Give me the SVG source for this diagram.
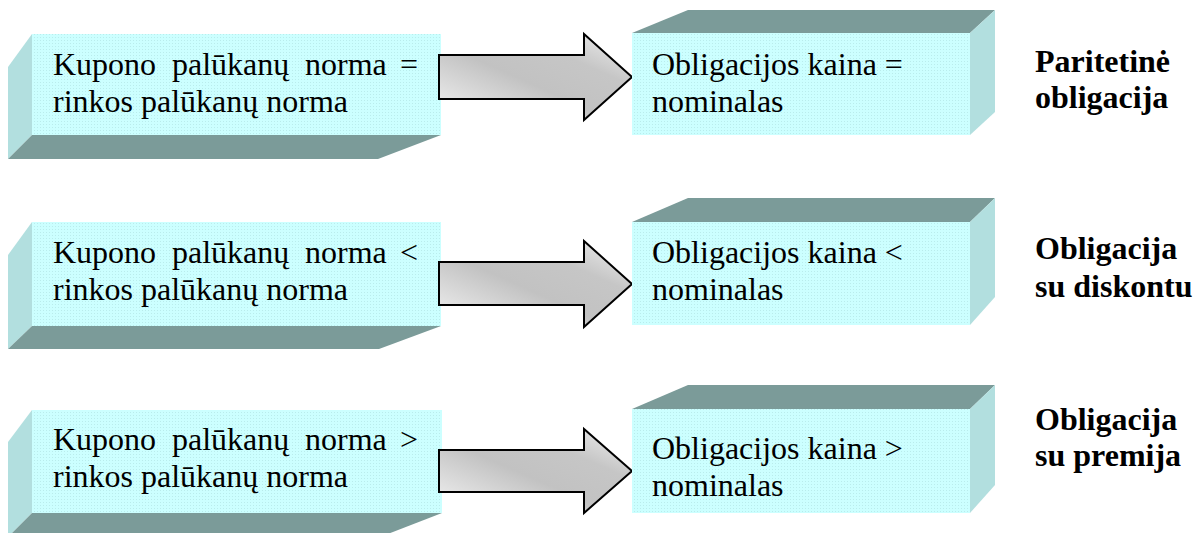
<svg xmlns="http://www.w3.org/2000/svg" width="1195" height="533" viewBox="0 0 1195 533">
  <defs>
    <!-- fine dotted texture on the front faces -->
    <pattern id="dots" width="3" height="3" patternUnits="userSpaceOnUse">
      <rect width="3" height="3" fill="#CCFFFF"/>
      <rect x="1" y="1" width="1" height="1" fill="#A9DCDC" opacity="0.55"/>
    </pattern>
    <!-- metallic fill for the block arrows -->
    <linearGradient id="steel" x1="0" y1="1" x2="1" y2="0">
      <stop offset="0" stop-color="#F4F4F4"/>
      <stop offset="0.45" stop-color="#C2C2C2"/>
      <stop offset="0.7" stop-color="#C6C6C6"/>
      <stop offset="1" stop-color="#F2F2F2"/>
    </linearGradient>
  </defs>
  <style>
    .front { fill: url(#dots); }
    .side { fill: #B2DFDF; }
    .shade { fill: #7B9B99; }
    .arrow { fill: url(#steel); stroke: #000; stroke-width: 2; stroke-linejoin: miter; }
    .txt { font-family: "Liberation Serif", "Times New Roman", serif; font-size: 32px; fill: #000; }
    .lbl { font-family: "Liberation Serif", "Times New Roman", serif; font-size: 32px; font-weight: bold; fill: #000; }
  </style>

  <rect width="1195" height="533" fill="#FFFFFF"/>

  <!-- condition blocks (extruded towards lower left) -->
  <g id="cond-1">
    <polygon class="side" points="8,67 32,34 32,135 8,159"/>
    <polygon class="shade" points="32,135 441,135 378,159 8,159"/>
    <rect class="front" x="32" y="34" width="409" height="101"/>
    <text class="txt" y="75"><tspan x="53">Kupono</tspan><tspan x="172">palūkanų</tspan><tspan x="305">norma</tspan><tspan x="400">=</tspan></text>
    <text class="txt" x="53" y="112">rinkos palūkanų norma</text>
  </g>
  <g id="cond-2">
    <polygon class="side" points="8,255 32,222 32,326 8,349"/>
    <polygon class="shade" points="32,326 441,326 379,349 8,349"/>
    <rect class="front" x="32" y="222" width="409" height="104"/>
    <text class="txt" y="263"><tspan x="53">Kupono</tspan><tspan x="172">palūkanų</tspan><tspan x="305">norma</tspan><tspan x="400">&lt;</tspan></text>
    <text class="txt" x="53" y="300">rinkos palūkanų norma</text>
  </g>
  <g id="cond-3">
    <polygon class="side" points="8,442 32,410 32,513 8,537"/>
    <polygon class="shade" points="32,513 442,513 380,537 8,537"/>
    <rect class="front" x="32" y="410" width="410" height="103"/>
    <text class="txt" y="450"><tspan x="53">Kupono</tspan><tspan x="172">palūkanų</tspan><tspan x="305">norma</tspan><tspan x="400">&gt;</tspan></text>
    <text class="txt" x="53" y="487">rinkos palūkanų norma</text>
  </g>

  <!-- connectors -->
  <g id="connectors">
    <polygon class="arrow" points="439,55 584,55 584,34 632,77 584,120 584,99 439,99"/>
    <polygon class="arrow" points="439,262 584,262 584,241 632,284 584,327 584,305 439,305"/>
    <polygon class="arrow" points="439,450 584,450 584,429 632,471 584,513 584,492 439,492"/>
  </g>

  <!-- price blocks (extruded towards upper right) -->
  <g id="price-1">
    <polygon class="shade" points="632,33 688,10 995,10 970,33"/>
    <polygon class="side" points="970,33 995,10 995,112 970,135"/>
    <rect class="front" x="632" y="33" width="338" height="102"/>
    <text class="txt" x="652" y="75">Obligacijos kaina =</text>
    <text class="txt" x="652" y="112">nominalas</text>
  </g>
  <g id="price-2">
    <polygon class="shade" points="632,222 688,198 995,198 970,222"/>
    <polygon class="side" points="970,222 995,198 995,297 970,325"/>
    <rect class="front" x="632" y="222" width="338" height="103"/>
    <text class="txt" x="652" y="263">Obligacijos kaina &lt;</text>
    <text class="txt" x="652" y="300">nominalas</text>
  </g>
  <g id="price-3">
    <polygon class="shade" points="632,409 688,385 995,385 970,409"/>
    <polygon class="side" points="970,409 995,385 995,485 970,513"/>
    <rect class="front" x="632" y="409" width="338" height="104"/>
    <text class="txt" x="652" y="459">Obligacijos kaina &gt;</text>
    <text class="txt" x="652" y="496">nominalas</text>
  </g>

  <!-- bond type labels -->
  <g id="type-1">
    <text class="lbl" x="1035" y="72">Paritetinė</text>
    <text class="lbl" x="1035" y="108">obligacija</text>
  </g>
  <g id="type-2">
    <text class="lbl" x="1035" y="259">Obligacija</text>
    <text class="lbl" x="1035" y="297">su diskontu</text>
  </g>
  <g id="type-3">
    <text class="lbl" x="1035" y="430">Obligacija</text>
    <text class="lbl" x="1035" y="466">su premija</text>
  </g>
</svg>
